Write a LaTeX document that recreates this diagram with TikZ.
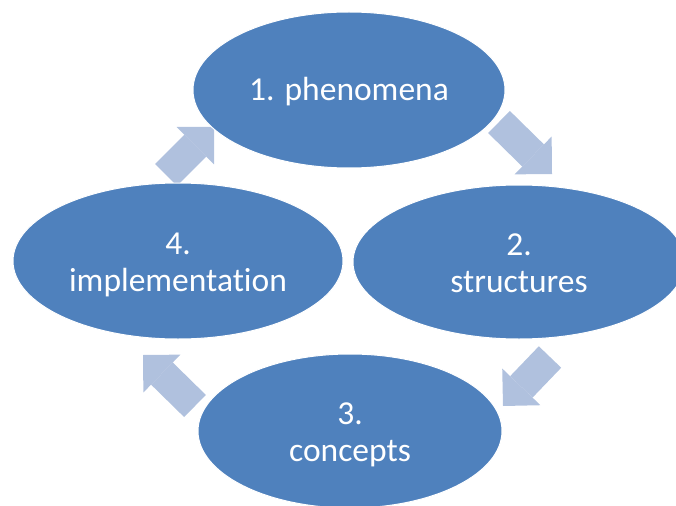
\documentclass[tikz,border=0pt]{standalone}
\usepackage{fontspec}
\setmainfont{Carlito}[Ligatures=NoCommon]
\usetikzlibrary{shapes.geometric, arrows.meta, backgrounds}
\definecolor{stepblue}{HTML}{4F81BD}
\definecolor{arrowblue}{HTML}{B0C1DE}

\begin{document}
\begin{tikzpicture}[x=1pt, y=-1pt, main/.style={ellipse, draw=white, line width=1pt, fill=stepblue, text=white, inner sep=0pt, align=center, font=\fontsize{33.5}{37}\selectfont, text height=60pt, text depth=0pt}, b/.style={arrowblue, line width=31pt, -{Triangle[length=26.5pt, width=53pt, line width=0pt]}}]
    \useasboundingbox (0,0) rectangle (676,505);
    % nodes
    \node[main, minimum width=312pt, minimum height=156pt, text height=24pt, text depth=2pt] (P) at (349,90) {1. phenomena};
    \node[main, minimum width=332pt, minimum height=154pt] (S) at (519,262) {2.\\structures};
    \node[main, minimum width=304pt, minimum height=154pt] (C) at (350,431) {3.\\concepts};
    \node[main, minimum width=330pt, minimum height=156pt] (I) at (178,261) {4.\\implementation};
    % edges
    \begin{pgfonlayer}{background}
        \draw[b] ([shift={(150,32)}]P.center) -- ([shift={(33,-88)}]S.center);
        \draw[b] ([shift={(31,95)}]S.center) -- ([shift={(153,-25)}]C.center);
        \draw[b] ([shift={(-155,-25)}]C.center) -- ([shift={(-35,94)}]I.center);
        \draw[b] ([shift={(-12,-86)}]I.center) -- ([shift={(-135,37)}]P.center);
    \end{pgfonlayer}
\end{tikzpicture}
\end{document}
